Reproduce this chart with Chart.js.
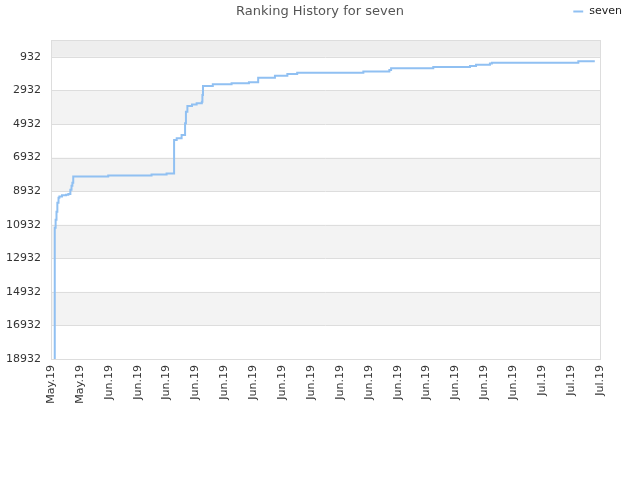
<!DOCTYPE html>
<html>
<head>
<meta charset="utf-8">
<script src="https://cdn.jsdelivr.net/npm/chart.js@4/dist/chart.umd.min.js"></script>
<style>
  html, body { margin: 0; padding: 0; background: #fff; }
  #wrap { width: 640px; height: 480px; position: relative; }
</style>
</head>
<body>
<div id="wrap"><canvas id="chart"></canvas></div>
<script>
// ── data ─────────────────────────────────────────────
const seriesName = 'seven';
const xLabels = ['May.19','May.19','Jun.19','Jun.19','Jun.19','Jun.19','Jun.19','Jun.19','Jun.19','Jun.19',
                 'Jun.19','Jun.19','Jun.19','Jun.19','Jun.19','Jun.19','Jun.19','Jul.19','Jul.19','Jul.19'];
const yTicks = [932, 2932, 4932, 6932, 8932, 10932, 12932, 14932, 16932, 18932];

// position along the date axis (in label steps) and rank at that moment
const steps = [0.10, 0.13, 0.16, 0.19, 0.22, 0.26, 0.29, 0.38, 0.52, 0.60, 0.67, 0.71, 0.74, 0.77,
               1.98, 3.48, 4.00, 4.26, 4.35, 4.52, 4.64, 4.67, 4.72, 4.88, 5.04, 5.22, 5.24, 5.26,
               5.60, 6.25, 6.85, 7.17, 7.75, 8.18, 8.52, 10.81, 11.71, 11.77, 13.23, 14.50, 14.71,
               15.19, 15.26, 18.25, 18.82];
const ranks = [18932, 11111, 10635, 10160, 9625, 9328, 9251, 9179, 9150, 9108, 8853, 8615, 8437, 8062,
               8003, 7944, 7884, 5882, 5781, 5585, 4889, 4200, 3861, 3772, 3701, 3606, 3208, 2673,
               2572, 2513, 2453, 2180, 2061, 1960, 1883, 1811, 1722, 1621, 1544, 1485, 1407,
               1336, 1289, 1205, 1205];

const FONT = 'DejaVu Sans';

// alternating bands + frame + title
const decor = {
  id: 'decor',
  afterInit(chart) {
    // give the legend row a little more room below it, so the plot starts at 40px
    const lg = chart.legend;
    if (lg && !lg._patched) {
      const fit = lg.fit;
      lg.fit = function () { fit.call(this); this.height += 13; };
      lg._patched = true;
    }
  },
  beforeDatasetsDraw(chart) {
    const { ctx, chartArea: a, scales: { y } } = chart;
    ctx.save();
    const edges = [y.min, ...yTicks];
    for (let i = 0; i < edges.length - 1; i++) {
      if (i % 2 === 1) continue;
      const y0 = y.getPixelForValue(edges[i]), y1 = y.getPixelForValue(edges[i + 1]);
      ctx.fillStyle = i === 0 ? '#eeeeee' : '#f3f3f3';
      ctx.fillRect(a.left, y0, a.right - a.left, y1 - y0);
    }
    ctx.strokeStyle = '#dddddd';
    ctx.lineWidth = 1;
    yTicks.forEach(t => {
      const py = Math.round(y.getPixelForValue(t)) + 0.5;
      ctx.beginPath(); ctx.moveTo(a.left, py); ctx.lineTo(a.right, py); ctx.stroke();
    });
    ctx.strokeRect(Math.round(a.left) + 0.5, Math.round(a.top) + 0.5,
                   Math.round(a.right - a.left), Math.round(a.bottom - a.top));
    ctx.restore();
  },
  afterDraw(chart) {
    const ctx = chart.ctx;
    ctx.save();
    ctx.font = '13px "' + FONT + '"';
    ctx.fillStyle = '#555555';
    ctx.textAlign = 'center';
    ctx.textBaseline = 'middle';
    ctx.fillText('Ranking History for ' + seriesName, 320, 12);
    ctx.restore();
  }
};

new Chart(document.getElementById('chart'), {
  type: 'line',
  data: {
    datasets: [{
      label: seriesName,
      data: steps.map((x, i) => ({ x, y: ranks[i] })),
      borderColor: '#90c0f2',
      backgroundColor: '#90c0f2',
      borderWidth: 2,
      pointRadius: 0,
      stepped: true,
      fill: false,
      clip: 0
    }]
  },
  options: {
    responsive: true,
    maintainAspectRatio: false,
    animation: false,
    layout: { padding: { top: 0, right: 12, left: 0, bottom: 0 } },
    plugins: {
      tooltip: { enabled: false },
      legend: {
        position: 'top',
        align: 'end',
        labels: {
          usePointStyle: true,
          pointStyle: 'line',
          boxHeight: 7,
          padding: 6,
          color: '#222',
          font: { family: FONT, size: 11 }
        }
      }
    },
    scales: {
      x: {
        type: 'linear',
        min: 0,
        max: xLabels.length - 1,
        afterBuildTicks: s => { s.ticks = xLabels.map((_, i) => ({ value: i })); },
        afterFit: s => { s.height = 121; },
        grid: { display: false, drawTicks: false },
        border: { display: false },
        ticks: {
          autoSkip: false,
          minRotation: 90,
          maxRotation: 90,
          padding: 6,
          color: '#333',
          font: { family: FONT, size: 11 },
          callback: v => xLabels[v]
        }
      },
      y: {
        reverse: true,
        min: -68,
        max: 18932,
        afterBuildTicks: s => { s.ticks = yTicks.map(v => ({ value: v })); },
        afterFit: s => { s.width = 51; },
        grid: { display: false, drawTicks: false },
        border: { display: false },
        ticks: {
          padding: 10,
          color: '#333',
          font: { family: FONT, size: 11 },
          callback: v => String(v)
        }
      },
      // empty right-hand gutter so the plot stops at 600px
      gutter: {
        type: 'linear',
        position: 'right',
        display: true,
        afterFit: s => { s.width = 28; },
        grid: { display: false, drawTicks: false },
        border: { display: false },
        ticks: { display: false }
      }
    }
  },
  plugins: [decor]
});
</script>
</body>
</html>
